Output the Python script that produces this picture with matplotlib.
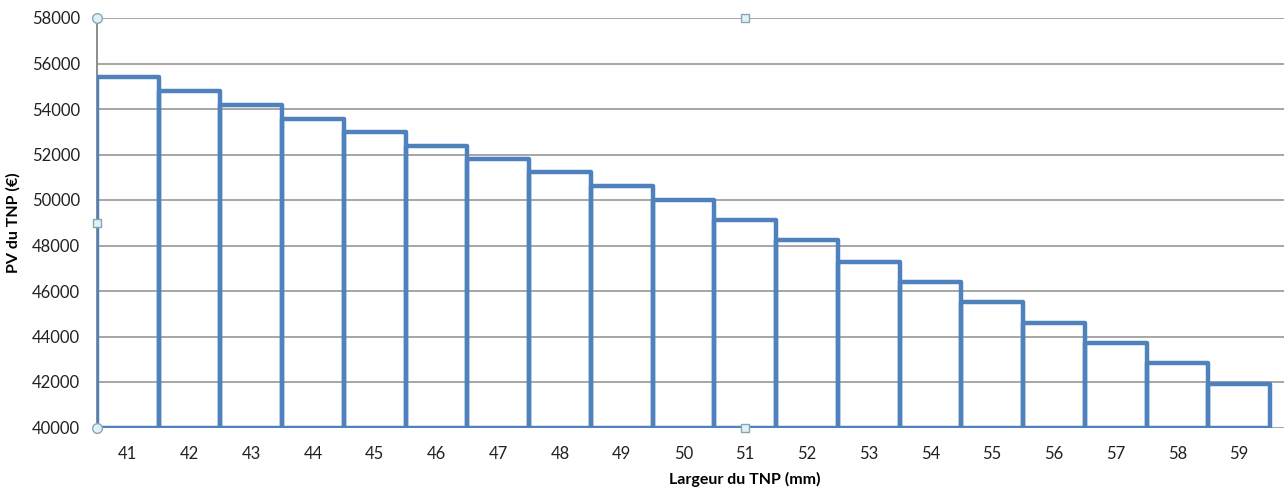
import matplotlib.pyplot as plt
import numpy as np

largeur = [41, 42, 43, 44, 45, 46, 47, 48, 49, 50, 51, 52, 53, 54, 55, 56, 57, 58, 59]
pv = [55400, 54790, 54170, 53580, 52980, 52390, 51800, 51210, 50620, 50000,
      49120, 48240, 47280, 46380, 45500, 44600, 43700, 42820, 41910]
y_min = 40000
y_max = 58000

plt.rcParams['font.family'] = ['Lato', 'DejaVu Sans']

fig = plt.figure(figsize=(12.84, 4.91), dpi=100)
ax = fig.add_axes([97/1284, 1 - 427.5/491, 1 - 97/1284, (427.5 - 18)/491])

x = np.arange(len(largeur))
heights = [v - y_min for v in pv]
ax.bar(x, heights, width=1.0, bottom=y_min, fill=False,
       edgecolor='#4F81BD', linewidth=3.2, joinstyle='round', zorder=3)

ax.set_ylim(y_min, y_max)
ax.set_xlim(-0.5, len(largeur) - 0.5 + 14/61.7)
ax.set_yticks(range(y_min, y_max + 1, 2000))
ax.set_xticks(x)
ax.set_xticklabels([str(v) for v in largeur])
ax.tick_params(length=0, labelsize=12, colors='#222222')
ax.tick_params(axis='x', pad=13)
ax.tick_params(axis='y', pad=12)

ax.yaxis.grid(True, color='#A6A6A6', linewidth=1.4)
ax.set_axisbelow(True)
for s in ['top', 'right', 'bottom']:
    ax.spines[s].set_visible(False)
ax.spines['left'].set_color('#8C8C8C')
ax.spines['left'].set_linewidth(1.4)

ax.set_ylabel('PV du TNP (€)', fontsize=11.5, fontweight='bold')
ax.yaxis.set_label_coords(-0.064, 0.5)
ax.set_xlabel('Largeur du TNP (mm)', fontsize=11.5, fontweight='bold')
ax.xaxis.set_label_coords((745 - 97)/(1284 - 97), -0.108)

# poignées de selection de la zone de tracé
hx = (745 - 97)/(1284 - 97)
ax.plot([0, 0], [0, 1], 'o', ms=7, mfc='#DDF3F8', mec='#8AA4B4', mew=1,
        transform=ax.transAxes, clip_on=False, zorder=5)
ax.plot([0, hx, hx], [0.5, 1, 0], 's', ms=6, mfc='#DDF3F8', mec='#8AA4B4', mew=1,
        transform=ax.transAxes, clip_on=False, zorder=5)

plt.savefig('out.png', dpi=100)
